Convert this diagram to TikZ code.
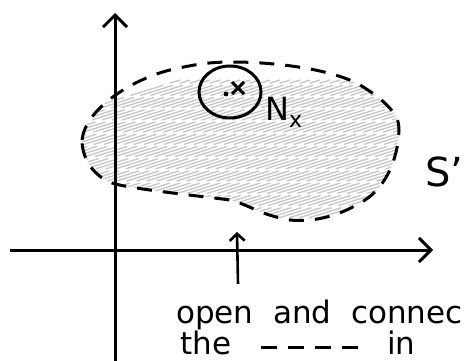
\documentclass[tikz,border=0pt]{standalone}
\usepackage{fontspec}
\setmainfont{DejaVu Sans}
\usetikzlibrary{arrows.meta,shapes.geometric,calc}
\begin{document}
\begin{tikzpicture}[x=1pt,y=-1pt,
  axis/.style={line width=3pt,-{Straight Barb[length=12pt,width=24pt,line width=3pt]}},
  smallarrow/.style={line width=2.6pt,-{Straight Barb[length=7pt,width=15pt,line width=2.6pt]}},
  region/.style={line width=3pt,dash pattern=on 15pt off 11pt},
  hatch/.style={gray!45,line width=1.3pt,dash pattern=on 34pt off 7pt},
  hand/.style={inner sep=0pt,anchor=base west}]
\useasboundingbox (0,0) rectangle (466,361);
\clip (0,0) rectangle (466,361);
\fill[white] (0,0) rectangle (466,361);
% hatched region S'
\def\regionpath{(82,140) .. controls (85,110) and (130,80) .. (170,70) .. controls (200,63) and (215,62) .. (233,62) .. controls (270,62) and (330,68) .. (360,85) .. controls (385,100) and (400,115) .. (399,130) .. controls (398,160) and (385,190) .. (360,203) .. controls (335,218) and (310,222) .. (290,220) .. controls (260,215) and (250,205) .. (230,200) .. controls (200,196) and (140,190) .. (115,184) .. controls (95,178) and (82,160) .. (82,140) -- cycle}
\begin{scope}
  \clip \regionpath;
  \foreach \k in {-300,-290,...,420}
    \draw[hatch] (\k,230) -- ++(480,-150);
\end{scope}
\draw[region] \regionpath;
% axes
\coordinate (xl) at (10,250);
\coordinate (xtip) at (433,250);
\coordinate (ybot) at (115,370);
\coordinate (ytip) at (115,13);
\draw[axis] (ybot) -- (ytip);
\draw[axis] (xl) -- (xtip);
% neighbourhood N_x
\node[draw,ellipse,line width=3pt,minimum width=62pt,minimum height=52pt,inner sep=0pt] (nbhd) at (230,92) {};
\coordinate (xpt) at (238,88);
\draw[line width=3pt] ($(xpt)+(-6,-6)$) -- ($(xpt)+(6,6)$) ($(xpt)+(-6,6)$) -- ($(xpt)+(6,-6)$);
\fill (226,94) circle (2.4pt);
\node[hand,font=\fontsize{32}{34}\selectfont] (nx) at (265,121) {N\raisebox{-0.4ex}{\fontsize{22}{24}\selectfont x}};
\node[hand,font=\fontsize{40}{42}\selectfont] (sp) at (425,186) {S'};
% pointer arrow
\coordinate (pbot) at (238,284);
\coordinate (ptip) at (237,232);
\draw[smallarrow] (pbot) -- (ptip);
% caption
\node[hand,font=\fontsize{31}{33}\selectfont] (cap1) at (176,323) {open\ \ and\ \ connec};
\node[hand,font=\fontsize{31}{33}\selectfont] (cap2) at (180,354) {the\ \ \ \rule[0.3ex]{16pt}{3pt}\hspace{11pt}\rule[0.3ex]{16pt}{3pt}\hspace{11pt}\rule[0.3ex]{16pt}{3pt}\hspace{11pt}\rule[0.3ex]{16pt}{3pt}\ \ \ in};
\end{tikzpicture}
\end{document}
